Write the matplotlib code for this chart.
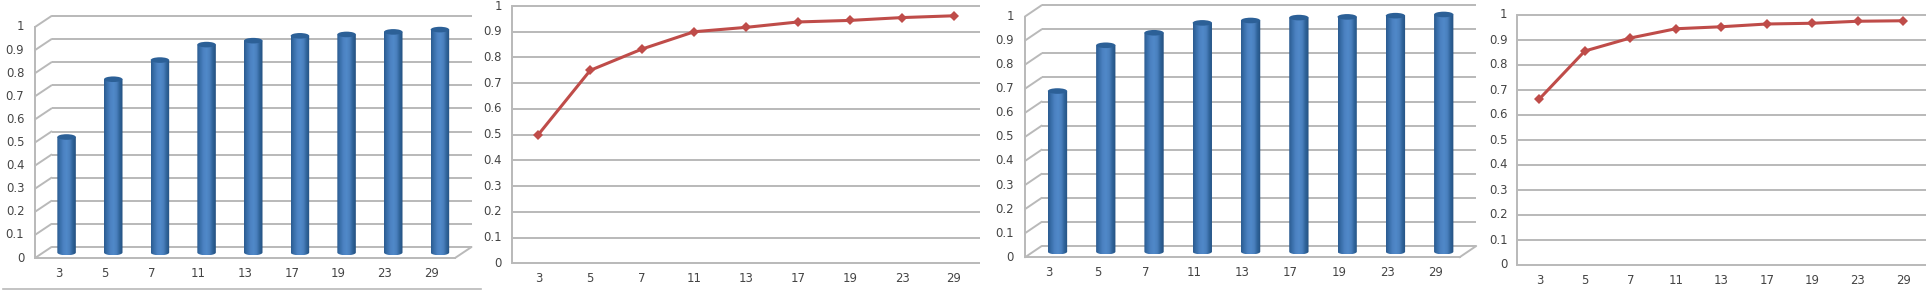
import numpy as np
import matplotlib
matplotlib.use('Agg')
import matplotlib.pyplot as plt
from matplotlib.colors import LinearSegmentedColormap
from matplotlib.lines import Line2D
from matplotlib.patches import ConnectionPatch, Ellipse, Polygon

W, H = 1930, 293

categories = ['3', '5', '7', '11', '13', '17', '19', '23', '29']
yticks = [0, 0.1, 0.2, 0.3, 0.4, 0.5, 0.6, 0.7, 0.8, 0.9, 1]
ylabels = ['0', '0.1', '0.2', '0.3', '0.4', '0.5', '0.6', '0.7', '0.8', '0.9', '1']

bars_a = [0.5, 0.75, 0.833, 0.9, 0.917, 0.938, 0.944, 0.955, 0.965]
line_a = [0.5, 0.75, 0.833, 0.9, 0.917, 0.938, 0.944, 0.955, 0.962]
bars_b = [0.667, 0.857, 0.909, 0.95, 0.96, 0.972, 0.975, 0.98, 0.985]
line_b = [0.664, 0.856, 0.908, 0.945, 0.953, 0.964, 0.967, 0.975, 0.977]

GRID = '#b9b9b9'
TEXT = '#444444'
RED = '#bf4c49'
cyl = LinearSegmentedColormap.from_list('cyl', ['#2b5b90', '#3a70ab', '#4c82c2', '#5089c9', '#4a80be', '#2f6399', '#24507f'])


def axes_px(left, top, right, bottom):
    ax = fig.add_axes([left / W, 1 - bottom / H, (right - left) / W, (bottom - top) / H])
    ax.set_xlim(0, 9)
    ax.set_ylim(0, 1)
    ax.patch.set_alpha(0)
    for s in ax.spines.values():
        s.set_visible(False)
    ax.set_xticks([])
    ax.set_yticks([])
    return ax


def bar_chart(values, left, top, right, bottom, dx, dy, bar_w):
    # dy is negative: the back wall sits higher up on the picture
    back = axes_px(left + dx, top + dy, right + dx, bottom + dy)
    front = axes_px(left, top, right, bottom)
    mid = axes_px(left + dx / 2, top + dy / 2, right + dx / 2, bottom + dy / 2)

    # back wall
    back.hlines(yticks, 0, 9, color=GRID, lw=1.4, clip_on=False)
    front.plot([0, 0], [0, 1], color=GRID, lw=1.4, clip_on=False)
    front.plot([0, 9], [0, 0], color=GRID, lw=1.4, clip_on=False)
    for t in yticks:
        fig.add_artist(ConnectionPatch((0, t), (0, t), coordsA=front.transData,
                                       coordsB=back.transData, color=GRID, lw=1.4))
    fig.add_artist(ConnectionPatch((9, 0), (9, 0), coordsA=front.transData,
                                   coordsB=back.transData, color=GRID, lw=1.4))

    # cylinders
    w = bar_w / ((right - left) / 9)
    eh = 2.8 / (bottom - top)
    grad = np.linspace(0, 1, 64).reshape(1, -1)
    t = np.linspace(0, np.pi, 40)
    for i, v in enumerate(values):
        c = i + 0.5
        im = mid.imshow(grad, cmap=cyl, extent=[c - w / 2, c + w / 2, -eh, v + eh],
                        aspect='auto', zorder=3)
        xs = np.r_[c + w / 2 * np.cos(t), c - w / 2 * np.cos(t)]
        ys = np.r_[v + eh * 0 * t, -eh * np.sin(t)]
        body = Polygon(np.c_[xs, ys], closed=True, transform=mid.transData, fc='none', ec='none')
        mid.add_patch(body)
        im.set_clip_path(body)
        im.set_clip_box(fig.bbox)
        mid.add_patch(Ellipse((c, v), w, 2 * eh, fc='#2c6097', ec='none', zorder=4, clip_on=False))
    mid.set_xlim(0, 9)
    mid.set_ylim(0, 1)

    # labels sit on the front plane
    for t_val, lab in zip(yticks, ylabels):
        front.text(-0.23, t_val, lab, ha='right', va='center', fontsize=8.4, color=TEXT)
    for i, lab in enumerate(categories):
        front.text(i + 0.5, -0.065, lab, ha='center', va='center', fontsize=8.4, color=TEXT)


def line_chart(values, left, top, right, bottom):
    ax = axes_px(left, top, right, bottom)
    ax.hlines(yticks, 0, 9, color=GRID, lw=1.4, clip_on=False, zorder=1)
    ax.plot([0, 0], [0, 1], color=GRID, lw=1.4, clip_on=False, zorder=1)
    ax.plot(np.arange(9) + 0.5, values, color=RED, lw=2.2, marker='D', ms=5.5, mew=0,
            clip_on=False, zorder=3)
    for t_val, lab in zip(yticks, ylabels):
        ax.text(-0.2, t_val, lab, ha='right', va='center', fontsize=8.4, color=TEXT)
    for i, lab in enumerate(categories):
        ax.text(i + 0.5, -0.061, lab, ha='center', va='center', fontsize=8.4, color=TEXT)


fig = plt.figure(figsize=(W / 100, H / 100), dpi=100)

bar_chart(bars_a, 35, 27, 455, 258, 16.5, -11, 18.5)
line_chart(line_a, 512.3, 6, 980, 263.3)
bar_chart(bars_b, 1025, 16.5, 1459.5, 257.3, 16.7, -11.3, 19.3)
line_chart(line_b, 1516.6, 15, 1926, 265)

# thin rule under the first panel
fig.add_artist(Line2D([3 / W, 481 / W], [1 - 289 / H, 1 - 289 / H], color=GRID, lw=1.2))

fig.savefig('out.png', dpi=100)
